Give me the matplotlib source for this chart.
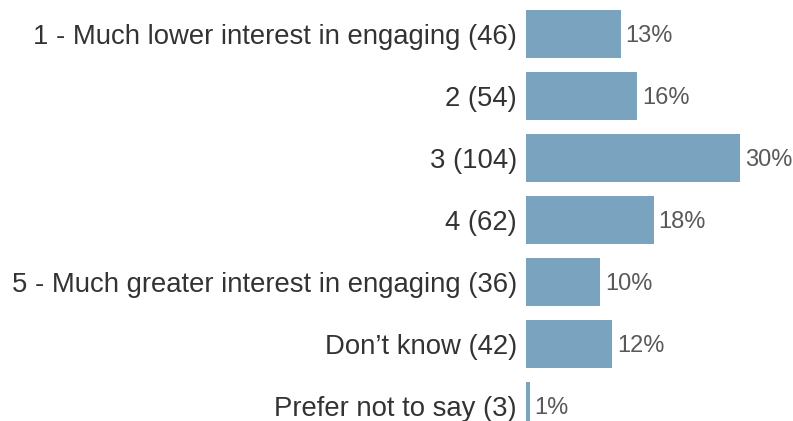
import matplotlib
matplotlib.use("Agg")
import matplotlib.pyplot as plt

categories = [
    "1 - Much lower interest in engaging (46)",
    "2 (54)",
    "3 (104)",
    "4 (62)",
    "5 - Much greater interest in engaging (36)",
    "Don\u2019t know (42)",
    "Prefer not to say (3)",
]
percent = [13.3, 15.6, 30.0, 17.9, 10.4, 12.1, 0.5]
labels = ["13%", "16%", "30%", "18%", "10%", "12%", "1%"]

BAR = "#7aa3bf"
W, H = 793, 421
fig = plt.figure(figsize=(W / 100, H / 100), dpi=100)
plt.rcParams["font.family"] = ["Liberation Sans", "DejaVu Sans"]

# axes placed so bar rows sit every 62 px, first centred at y=34
left, right = 526, 780
top, bottom = 3, 437
ax = fig.add_axes([left / W, (H - bottom) / H, (right - left) / W, (bottom - top) / H])

y = list(range(len(categories)))
ax.barh(y, percent, height=0.77, color=BAR)
ax.set_ylim(len(categories) - 0.5, -0.5)
ax.set_xlim(0, 30 * (right - left) / 214)

for yi, (v, lab) in enumerate(zip(percent, labels)):
    ax.annotate(lab, (v, yi), xytext=(3.5, -1.5), textcoords="offset points",
                va="center", ha="left", fontsize=17, color="#595959")

ax.set_yticks(y)
ax.set_yticklabels(categories, fontsize=19.8, color="#333333")
ax.tick_params(axis="y", length=0, pad=6.5)
ax.set_xticks([])
for s in ax.spines.values():
    s.set_visible(False)

fig.savefig("out.png", dpi=100)
